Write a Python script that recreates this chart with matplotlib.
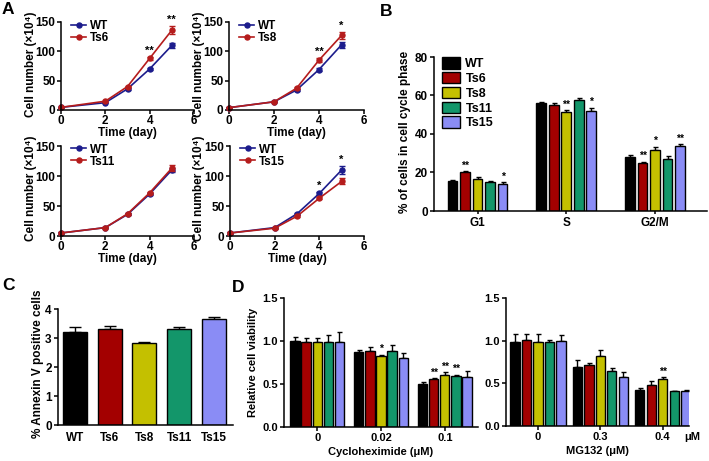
import matplotlib
matplotlib.use('Agg')
import matplotlib.pyplot as plt
import numpy as np

plt.rcParams['font.family'] = ['Liberation Sans', 'DejaVu Sans']
plt.rcParams['font.weight'] = 'bold'
plt.rcParams['axes.labelweight'] = 'bold'
plt.rcParams['axes.linewidth'] = 1.1

# ---------------- data ----------------
days = [0, 2, 3, 4, 5]
wt_a1 = [4.5, 12.5, 36, 70, 110]
wt_a1_err = [1, 1, 1.5, 2, 5]
ts6_growth = [4.5, 15, 40, 88, 136]
ts6_growth_err = [1, 1, 1.5, 2, 7]
wt_a2 = [4, 14, 34, 69, 111]
wt_a2_err = [1, 1, 1.5, 2, 5]
ts8_growth = [4, 14, 37, 85, 127]
ts8_growth_err = [1, 1, 1.5, 3, 6]
wt_a3 = [5, 14, 36, 70, 110]
wt_a3_err = [1, 1, 1.5, 2, 4]
ts11_growth = [5, 14, 37, 72, 113]
ts11_growth_err = [1, 1, 1.5, 2, 5]
wt_a4 = [5, 14, 37, 71, 110]
wt_a4_err = [1, 1, 1.5, 2, 6]
ts15_growth = [5, 13, 33, 63, 91]
ts15_growth_err = [1, 1, 1.5, 2, 5]
stars_a1 = {4: '**', 5: '**'}
stars_a2 = {4: '**', 5: '*'}
stars_a3 = {}
stars_a4 = {4: '*', 5: '*'}

lines = ['WT', 'Ts6', 'Ts8', 'Ts11', 'Ts15']
phases = ['G1', 'S', 'G2/M']
phase_vals = {
    'WT':   [15.5, 56.0, 28.2],
    'Ts6':  [20.0, 55.0, 25.0],
    'Ts8':  [16.7, 51.4, 31.7],
    'Ts11': [15.0, 57.7, 27.2],
    'Ts15': [14.1, 52.1, 33.6],
}
phase_err = {
    'WT':   [0.5, 0.8, 0.8],
    'Ts6':  [0.7, 1.2, 0.5],
    'Ts8':  [1.0, 1.0, 1.8],
    'Ts11': [0.8, 1.0, 1.5],
    'Ts15': [0.8, 1.5, 1.0],
}
phase_stars = {('Ts6', 0): '**', ('Ts15', 0): '*', ('Ts8', 1): '**', ('Ts15', 1): '*',
               ('Ts6', 2): '**', ('Ts8', 2): '*', ('Ts15', 2): '**'}

annexin = [3.22, 3.31, 2.83, 3.31, 3.67]
annexin_err = [0.15, 0.12, 0.04, 0.06, 0.04]

chx_doses = ['0', '0.02', '0.1']
chx_vals = {
    'WT':   [1.00, 0.87, 0.505],
    'Ts6':  [0.99, 0.88, 0.56],
    'Ts8':  [0.99, 0.82, 0.61],
    'Ts11': [0.99, 0.88, 0.59],
    'Ts15': [0.99, 0.80, 0.585],
}
chx_err = {
    'WT':   [0.05, 0.02, 0.015],
    'Ts6':  [0.04, 0.05, 0.01],
    'Ts8':  [0.04, 0.02, 0.03],
    'Ts11': [0.08, 0.07, 0.02],
    'Ts15': [0.11, 0.06, 0.07],
}
chx_stars = {('Ts8', 1): '*', ('Ts6', 2): '**', ('Ts8', 2): '**', ('Ts11', 2): '**'}

mg_doses = ['0', '0.3', '0.4']
mg_vals = {
    'WT':   [0.98, 0.69, 0.42],
    'Ts6':  [1.01, 0.71, 0.48],
    'Ts8':  [0.99, 0.82, 0.55],
    'Ts11': [0.98, 0.64, 0.41],
    'Ts15': [1.00, 0.57, 0.41],
}
mg_err = {
    'WT':   [0.10, 0.08, 0.02],
    'Ts6':  [0.07, 0.03, 0.05],
    'Ts8':  [0.09, 0.07, 0.02],
    'Ts11': [0.03, 0.04, 0.005],
    'Ts15': [0.07, 0.06, 0.01],
}
mg_stars = {('Ts8', 2): '**'}

colors = {'WT': '#000000', 'Ts6': '#a30000', 'Ts8': '#c4c000',
          'Ts11': '#13966a', 'Ts15': '#8a8cf5'}
wt_line = '#1c1c8c'
ts_line = '#b51c1c'

# ---------------- figure ----------------
W, H = 709, 461
fig = plt.figure(figsize=(W / 100, H / 100), dpi=100)


def px_axes(x0, y0, x1, y1):
    return fig.add_axes([x0 / W, 1 - y1 / H, (x1 - x0) / W, (y1 - y0) / H])


def style(ax, fs=8):
    for s in ['top', 'right']:
        ax.spines[s].set_visible(False)
    ax.tick_params(direction='out', length=3, width=1.1, labelsize=fs, pad=1.5)
    for lab in ax.get_xticklabels() + ax.get_yticklabels():
        lab.set_fontweight('bold')


def growth(ax, wt, wte, ts, tse, name, stars):
    for y, e, col, lab in [(wt, wte, wt_line, 'WT'), (ts, tse, ts_line, name)]:
        ax.errorbar(days, y, yerr=e, fmt='none', ecolor=col, capsize=2,
                    elinewidth=0.9, clip_on=False)
        ax.plot(days, y, color=col, marker='o', ms=3.6, lw=1.2, label=lab,
                clip_on=False)
    ax.set_xlim(0, 6)
    ax.set_ylim(0, 150)
    ax.set_xticks([0, 2, 4, 6])
    ax.set_yticks([0, 50, 100, 150])
    style(ax, 8.5)
    ax.tick_params(axis='y', pad=1)
    ax.tick_params(axis='x', pad=0.5)
    for d, s in stars.items():
        i = days.index(d)
        top = max(wt[i] + wte[i], ts[i] + tse[i])
        ax.text(d, top + 2, s, ha='center', va='bottom', fontsize=8, fontweight='bold')
    leg = ax.legend(loc='upper left', bbox_to_anchor=(0.04, 1.08), frameon=False,
                    fontsize=8.5, handlelength=1.3, handletextpad=0.3,
                    labelspacing=0.0, borderaxespad=0)
    for t in leg.get_texts():
        t.set_fontweight('bold')
    ax.set_xlabel('Time (day)', fontsize=8.5, labelpad=0)


a1 = px_axes(61, 22, 194, 110)
growth(a1, wt_a1, wt_a1_err, ts6_growth, ts6_growth_err, 'Ts6', stars_a1)
a2 = px_axes(229, 22, 364, 110)
growth(a2, wt_a2, wt_a2_err, ts8_growth, ts8_growth_err, 'Ts8', stars_a2)
a3 = px_axes(61, 146, 194, 236)
growth(a3, wt_a3, wt_a3_err, ts11_growth, ts11_growth_err, 'Ts11', stars_a3)
a4 = px_axes(230, 146, 364, 236)
growth(a4, wt_a4, wt_a4_err, ts15_growth, ts15_growth_err, 'Ts15', stars_a4)

ylab_a = 'Cell number (\u00d710\u2074)'
for (x, y) in [(31, 64), (199, 64), (31, 188), (199, 188)]:
    fig.text(x / W, 1 - y / H, ylab_a, rotation=90, ha='center', va='center',
             fontsize=8.5, fontweight='bold')


def grouped(ax, vals, errs, stars, ngroups, step, width, fs_star=7.5, off=0.01):
    for j, ln in enumerate(lines):
        x = np.arange(ngroups) + (j - 2) * step
        v = np.array(vals[ln])
        e = np.array(errs[ln])
        ax.bar(x, v, width=width, color=colors[ln], edgecolor='black', linewidth=1.0,
               label=ln, zorder=2)
        ax.errorbar(x, v, yerr=[np.zeros_like(e), e], fmt='none', ecolor='black',
                    elinewidth=1.0, capsize=1.8, capthick=1.0, zorder=1)
        for g in range(ngroups):
            if (ln, g) in stars:
                ax.text(x[g], v[g] + e[g] + off, stars[(ln, g)], ha='center',
                        va='bottom', fontsize=fs_star, fontweight='bold')


# ---------------- B ----------------
b = px_axes(434, 57, 707, 211)
grouped(b, phase_vals, phase_err, phase_stars, 3, 0.141, 0.11, off=0.3)
b.set_xlim(-0.49, 2.585)
b.set_ylim(0, 80)
b.set_yticks([0, 20, 40, 60, 80])
b.set_xticks(range(3))
b.set_xticklabels(phases)
style(b, 8.5)
b.tick_params(axis='x', length=2.5)
legb = b.legend(loc='upper left', bbox_to_anchor=(0.01, 1.03), frameon=False,
                fontsize=9, handlelength=1.5, handleheight=1.0,
                handletextpad=0.4, labelspacing=0.15, borderaxespad=0)
for t in legb.get_texts():
    t.set_fontweight('bold')
fig.text(405 / W, 1 - 132 / H, '% of cells in cell cycle phase', rotation=90,
         ha='center', va='center', fontsize=8.5, fontweight='bold')

# ---------------- C ----------------
c = px_axes(58, 309, 233, 425)
xc = np.arange(len(lines))
c.bar(xc, annexin, width=0.69, color=[colors[l] for l in lines], edgecolor='black',
      linewidth=1.0, zorder=2)
c.errorbar(xc, annexin, yerr=[np.zeros(len(annexin)), annexin_err], fmt='none',
           ecolor='black', elinewidth=1.0, capsize=4, capthick=1.0, zorder=1)
c.set_xlim(-0.49, 4.55)
c.set_ylim(0, 4)
c.set_yticks([0, 1, 2, 3, 4])
c.set_xticks(xc)
c.set_xticklabels(lines)
style(c, 8.5)
c.tick_params(axis='x', length=0, pad=5, labelsize=8.5)
for t in c.get_xticklabels():
    t.set_fontweight('bold')
fig.text(38 / W, 1 - 364 / H, '% Annexin V positive cells', rotation=90,
         ha='center', va='center', fontsize=8.5, fontweight='bold')

# ---------------- D ----------------
d1 = px_axes(284, 298, 478, 427)
grouped(d1, chx_vals, chx_err, chx_stars, 3, 0.174, 0.145, off=0.005)
d1.set_xlim(-0.52, 2.52)
d1.set_ylim(0, 1.5)
d1.set_yticks([0, 0.5, 1.0, 1.5])
d1.set_yticklabels(['0.0', '0.5', '1.0', '1.5'])
d1.set_xticks(range(3))
d1.set_xticklabels(chx_doses)
style(d1, 8)
d1.set_xlabel('Cycloheximide (\u03bcM)', fontsize=8, labelpad=3)
fig.text(253 / W, 1 - 362 / H, 'Relative cell viability', rotation=90,
         ha='center', va='center', fontsize=8, fontweight='bold')

d2 = px_axes(506, 298, 689, 426)
grouped(d2, mg_vals, mg_err, mg_stars, 3, 0.184, 0.15, off=0.005)
d2.set_xlim(-0.51, 2.42)
d2.set_ylim(0, 1.5)
d2.set_yticks([0, 0.5, 1.0, 1.5])
d2.set_yticklabels(['0.0', '0.5', '1.0', '1.5'])
d2.set_xticks(range(3))
d2.set_xticklabels(mg_doses)
style(d2, 8)
d2.set_xlabel('MG132 (\u03bcM)', fontsize=8, labelpad=3)
fig.text(692 / W, 1 - 437 / H, '\u03bcM', ha='center', va='center',
         fontsize=8, fontweight='bold')

# panel letters
for s, x, y in [('A', 2, 2), ('B', 380, 4), ('C', 2, 278), ('D', 232, 280)]:
    fig.text(x / W, 1 - y / H, s, ha='left', va='top', fontsize=12.5, fontweight='bold')

fig.savefig('out.png', dpi=100)
